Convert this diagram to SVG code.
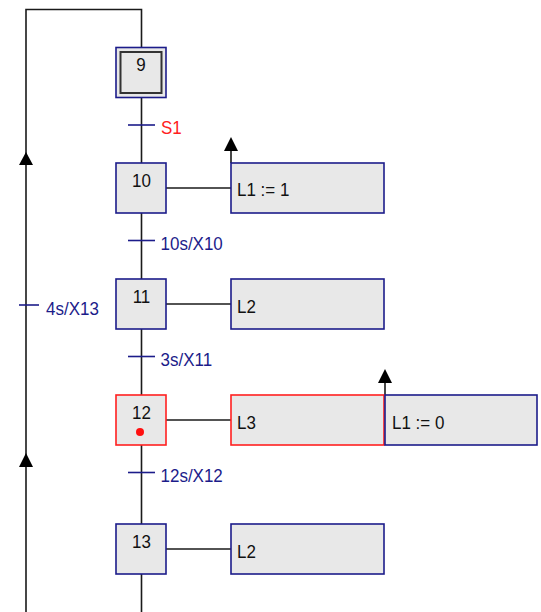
<svg xmlns="http://www.w3.org/2000/svg" width="541" height="612" viewBox="0 0 541 612">
<style>
.ln{stroke:#1a1a1a;stroke-width:1.6;fill:none}
.step{fill:#e8e8e8;stroke:#1c1c8a;stroke-width:1.6}
.act{fill:#e8e8e8;stroke:#1c1c8a;stroke-width:1.6}
.red{stroke:#ff2020}
.tk{stroke:#1c1c8a;stroke-width:1.6}
text{font-family:"Liberation Sans",Arial,sans-serif;font-size:17px}
.num{fill:#111;text-anchor:middle}
.at{fill:#111}
.tt{fill:#1c1c8a}
.ts{fill:#ff2020}
.ah{fill:#000}
</style>
<rect width="541" height="612" fill="#ffffff"/>
<g id="connectors">
<polyline class="ln" points="26,612 26,9.5 141.5,9.5 141.5,612"/>
<line class="ln" x1="166" y1="188" x2="231" y2="188"/>
<line class="ln" x1="166" y1="304" x2="231" y2="304"/>
<line class="ln" x1="166" y1="420" x2="231" y2="420"/>
<line class="ln" x1="166" y1="549" x2="231" y2="549"/>
<line class="ln" x1="231" y1="150" x2="231" y2="163"/>
<polygon class="ah" points="231,137 224,151 238,151"/>
<line class="ln" x1="385" y1="382" x2="385" y2="395"/>
<polygon class="ah" points="385,369 378,383 392,383"/>
<polygon class="ah" points="26,152 19,165 33,165"/>
<polygon class="ah" points="26,453 19,467 33,467"/>
</g>
<g id="transitions">
<g id="t-s1"><line class="tk" x1="128" y1="125" x2="155" y2="125"/><text class="ts" transform="translate(161,134.3) scale(1,1.12)">S1</text></g>
<g id="t-10s"><line class="tk" x1="128" y1="240.5" x2="155" y2="240.5"/><text class="tt" transform="translate(160.5,250) scale(1,1.12)">10s/X10</text></g>
<g id="t-3s"><line class="tk" x1="128" y1="356.5" x2="155" y2="356.5"/><text class="tt" transform="translate(160.5,366) scale(1,1.12)">3s/X11</text></g>
<g id="t-12s"><line class="tk" x1="128" y1="472.5" x2="155" y2="472.5"/><text class="tt" transform="translate(160.5,482) scale(1,1.12)">12s/X12</text></g>
<g id="t-4s"><line class="tk" x1="19" y1="305" x2="39" y2="305"/><text class="tt" transform="translate(46,314.5) scale(1,1.12)">4s/X13</text></g>
</g>
<g id="step9">
<rect class="step" x="116" y="47.5" width="50" height="50"/>
<rect x="120.5" y="52" width="41" height="41" fill="none" stroke="#333" stroke-width="2"/>
<text class="num" transform="translate(141,71) scale(1,1.12)">9</text>
</g>
<g id="step10">
<rect class="step" x="116" y="163" width="50" height="50"/>
<text class="num" transform="translate(141.5,187) scale(1,1.12)">10</text>
</g>
<g id="step11">
<rect class="step" x="116" y="279" width="50" height="50"/>
<text class="num" transform="translate(141.5,303) scale(1,1.12)">11</text>
</g>
<g id="step12">
<rect class="step red" x="116" y="395" width="50" height="50"/>
<text class="num" transform="translate(141.5,418.5) scale(1,1.12)">12</text>
<circle cx="140" cy="432" r="4" fill="#ff1010"/>
</g>
<g id="step13">
<rect class="step" x="116" y="524" width="50" height="50"/>
<text class="num" transform="translate(141.5,547.5) scale(1,1.12)">13</text>
</g>
<g id="action10">
<rect class="act" x="231" y="163" width="153" height="50"/>
<text class="at" transform="translate(237,196) scale(1,1.12)">L1 := 1</text>
</g>
<g id="action11">
<rect class="act" x="231" y="279" width="153" height="50"/>
<text class="at" transform="translate(237,312.5) scale(1,1.12)">L2</text>
</g>
<g id="action12a">
<rect class="act red" x="231" y="395" width="153" height="50"/>
<text class="at" transform="translate(237,428.5) scale(1,1.12)">L3</text>
</g>
<g id="action12b">
<rect class="act" x="385" y="395" width="152" height="50"/>
<text class="at" transform="translate(392,428.5) scale(1,1.12)">L1 := 0</text>
</g>
<g id="action13">
<rect class="act" x="231" y="524" width="153" height="50"/>
<text class="at" transform="translate(237,557.5) scale(1,1.12)">L2</text>
</g>
</svg>
